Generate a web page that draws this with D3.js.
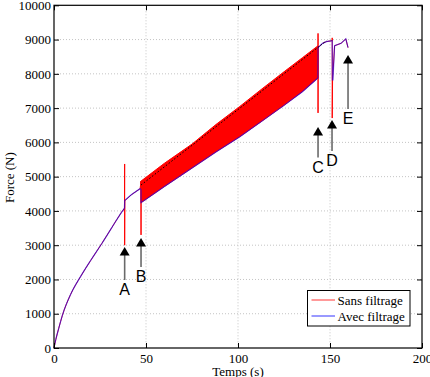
<!DOCTYPE html>
<html><head><meta charset="utf-8">
<script src="https://cdn.jsdelivr.net/npm/d3@7"></script>
<style>
html,body{margin:0;padding:0;background:#fff;} svg{display:block}
text{font-family:"Liberation Serif","Times New Roman","DejaVu Serif",serif;}
text.lbl{font-family:"Liberation Sans",Arial,"DejaVu Sans",sans-serif;}
</style>
</head><body>
<svg id="c" width="430" height="377"></svg>
<script>
// ---------- data ----------
const xTicks = [0, 50, 100, 150, 200];
const yTicks = [0, 1000, 2000, 3000, 4000, 5000, 6000, 7000, 8000, 9000, 10000];
const xLabel = "Temps (s)";
const yLabel = "Force (N)";
const legendLabels = ["Sans filtrage", "Avec filtrage"];

// common rising part (both signals)
const montee = [[0,0],[1,250],[2.5,560],[4.6,960],[9,1560],[14.5,2090],[20,2560],[26,3050],[31.5,3520],[36.7,3960],[38.3,4080]];

// "Sans filtrage" (raw) before and after the oscillating band
const sansAvant = [[38.3,4080],[38.4,5370],[38.4,3000],[38.5,4300],[42,4470],[46.8,4650],[47.3,4870],[47.3,3300],[47.3,4870]];
const sansApres = [[143.5,8820],[143.5,9180],[143.5,6860],[143.6,8765],[146,8890],[148,8940],[151.2,8970],[151.2,9050],[151.2,6710],[151.4,7820],[152.5,8820],[156,8890],[158.6,9020],[159.8,8765]];

// oscillating band envelope of the raw signal
const bandT    = [47.3, 60, 75, 88, 101, 113, 125, 135, 143.5];
const bandHaut = [4870, 5390, 5950, 6520, 7050, 7560, 8060, 8470, 8820];
const bandBas  = [4240, 4710, 5250, 5720, 6165, 6620, 7080, 7480, 7880];

// "Avec filtrage" (filtered)
const avecApres = [[38.3,4080],[38.4,4300],[42,4470],[46.8,4650],[47.3,4620],[47.3,4240],
  [60,4710],[75,5250],[88,5720],[101,6165],[113,6620],[125,7080],[135,7480],[143.4,7880],
  [143.5,8765],[146,8890],[148,8940],[151.2,8970],[151.3,7820],[151.6,7820],[152.5,8820],[156,8890],[158.6,9020],[159.8,8765]];

// dashed trend line
const tendance = [[47.3,4756],[148,8962]];

// arrows: label, time, tip force, tail force
const fleches = [
  {label:"A", t:38.4,  pointe:2950, queue:1985},
  {label:"B", t:47.3,  pointe:3210, queue:2365},
  {label:"C", t:143.5, pointe:6450, queue:5560},
  {label:"D", t:151.1, pointe:6650, queue:5750},
  {label:"E", t:159.8, pointe:8550, queue:6975}
];

// ---------- drawing ----------
const svg = d3.select("#c");
const L = 54, R = 422, T = 5.3, B = 348;
const x = d3.scaleLinear().domain([0,200]).range([L,R]);
const y = d3.scaleLinear().domain([0,10000]).range([B,T]);

svg.append("rect").attr("width",430).attr("height",377).attr("fill","#fff");

// grid
const g = svg.append("g");
g.selectAll(".gx").data(xTicks.slice(1,-1)).join("line")
  .attr("x1",d=>x(d)).attr("x2",d=>x(d)).attr("y1",T).attr("y2",B)
  .attr("stroke","#c4c4c4").attr("stroke-dasharray","1,2");
g.selectAll(".gy").data(yTicks.slice(1,-1)).join("line")
  .attr("y1",d=>y(d)).attr("y2",d=>y(d)).attr("x1",L).attr("x2",R)
  .attr("stroke","#c4c4c4").attr("stroke-dasharray","1,2");

const line = d3.line().x(d=>x(d[0])).y(d=>y(d[1]));
const smooth = d3.line().x(d=>x(d[0])).y(d=>y(d[1])).curve(d3.curveMonotoneX);

// red band
const band = bandT.map((t,i)=>({t, h:bandHaut[i], b:bandBas[i]}));
svg.append("path").datum(band)
  .attr("d", d3.area().x(d=>x(d.t)).y0(d=>y(d.b)).y1(d=>y(d.h)))
  .attr("fill","#ff0000").attr("stroke","#ff0000").attr("stroke-width",1);

// red lines
svg.append("path").datum(montee).attr("d",smooth).attr("fill","none")
  .attr("stroke","#ff0000").attr("stroke-width",1);
[sansAvant, sansApres].forEach(s=>{
  svg.append("path").datum(s).attr("d",line).attr("fill","none")
    .attr("stroke","#ff0000").attr("stroke-width",1);
});

// blue lines
svg.append("path").datum(montee).attr("d",smooth).attr("fill","none")
  .attr("stroke","#0000ff").attr("stroke-opacity",0.6).attr("stroke-width",1.2);
svg.append("path").datum(avecApres).attr("d",line).attr("fill","none")
  .attr("stroke","#0000ff").attr("stroke-opacity",0.6).attr("stroke-width",1.2);

// dashed trend
svg.append("path").datum(tendance).attr("d",line).attr("fill","none")
  .attr("stroke","#000").attr("stroke-width",1).attr("stroke-dasharray","1.5,2");

// axes
const axB = svg.append("g").attr("transform",`translate(0,${B})`)
  .call(d3.axisBottom(x).tickValues(xTicks).tickSize(-5).tickPadding(5.5).tickFormat(d3.format("d")));
const axL = svg.append("g").attr("transform",`translate(${L},0)`)
  .call(d3.axisLeft(y).tickValues(yTicks).tickSize(-5).tickPadding(3).tickFormat(d3.format("d")));
const axT = svg.append("g").attr("transform",`translate(0,${T})`)
  .call(d3.axisTop(x).tickValues(xTicks).tickSize(-5).tickFormat(""));
const axR = svg.append("g").attr("transform",`translate(${R},0)`)
  .call(d3.axisRight(y).tickValues(yTicks).tickSize(-5).tickFormat(""));
[axB,axL,axT,axR].forEach(a=>{
  a.select(".domain").remove();
  a.selectAll("line").attr("stroke","#000");
  a.selectAll("text").style("font-size","13px").attr("fill","#000");
});
svg.append("rect").attr("x",L).attr("y",T).attr("width",R-L).attr("height",B-T)
  .attr("fill","none").attr("stroke","#000").attr("stroke-width",1.2);

// axis titles
svg.append("text").attr("x",(L+R)/2).attr("y",376).attr("text-anchor","middle")
  .style("font-size","13px").text(xLabel);
svg.append("text").attr("transform",`translate(14,${(T+B)/2+1}) rotate(-90)`)
  .attr("text-anchor","middle").style("font-size","13px").text(yLabel);

// arrows
const fg = svg.append("g");
fleches.forEach(f=>{
  const xx = x(f.t), yt = y(f.pointe), yq = y(f.queue);
  fg.append("line").attr("x1",xx).attr("x2",xx).attr("y1",yt+6).attr("y2",yq)
    .attr("stroke","#6a6a6a").attr("stroke-width",1.6);
  fg.append("path").attr("d",`M${xx},${yt} L${xx-5},${yt+8.5} L${xx+5},${yt+8.5} Z`).attr("fill","#000");
  fg.append("text").attr("class","lbl").attr("x",xx).attr("y",yq+15.5).attr("text-anchor","middle")
    .style("font-size","16px").text(f.label);
});

// legend
const lg = svg.append("g");
lg.append("rect").attr("x",307.5).attr("y",290.5).attr("width",102.5).attr("height",35.5)
  .attr("fill","#fff").attr("stroke","#000").attr("stroke-width",1);
const legColors = ["#ff0000","#0000ff"];
legendLabels.forEach((lab,i)=>{
  const yy = 300 + i*16;
  lg.append("line").attr("x1",311.5).attr("x2",335).attr("y1",yy).attr("y2",yy)
    .attr("stroke",legColors[i]).attr("stroke-width",1).attr("stroke-opacity",0.8);
  lg.append("text").attr("x",337.5).attr("y",yy+4.5).style("font-size","13px").text(lab);
});
</script>
</body></html>
